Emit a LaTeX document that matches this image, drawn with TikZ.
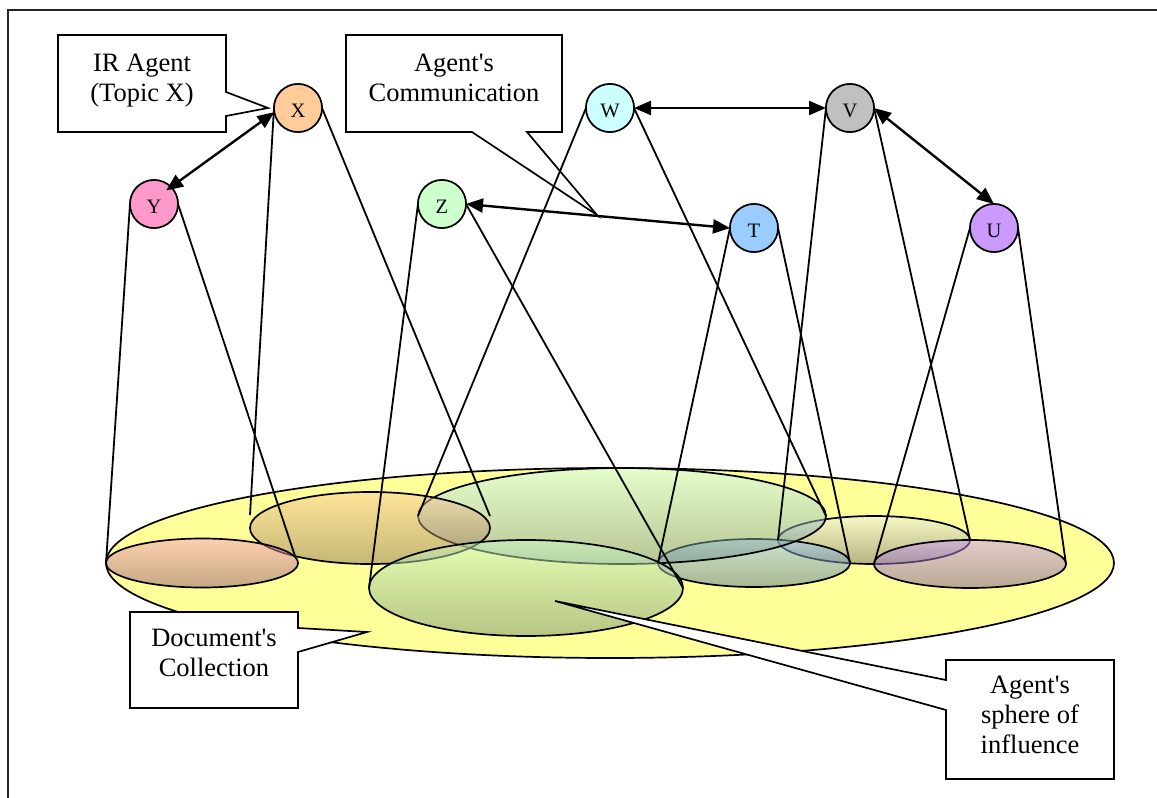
\documentclass[tikz,border=0pt]{standalone}
\usepackage{fontspec}
\setmainfont{Liberation Serif}
\usetikzlibrary{arrows.meta,shapes.geometric}

\definecolor{docyellow}{HTML}{FFFF99}
\definecolor{agX}{HTML}{FFCC99}
\definecolor{agY}{HTML}{FF99CC}
\definecolor{agZ}{HTML}{CCFFCC}
\definecolor{agW}{HTML}{CCFFFF}
\definecolor{agT}{HTML}{99CCFF}
\definecolor{agV}{HTML}{C0C0C0}
\definecolor{agU}{HTML}{CC99FF}

\tikzset{
  agent/.style={circle, draw, line width=1.6pt, minimum size=48pt, inner sep=0pt,
    outer sep=0pt, font=\fontsize{20.5}{20.5}\selectfont, text height=18pt, text depth=0pt},
  sphere/.style n args={4}{ellipse, draw, line width=1.7pt, inner sep=0pt, outer sep=0pt,
    minimum width=#1, minimum height=#2, top color=#3, bottom color=#4,
    fill opacity=0.5, draw opacity=1},
  cone/.style={line width=1.8pt},
  link/.style={{Triangle[length=17pt,width=14pt]}-{Triangle[length=17pt,width=14pt]},
    line width=2.4pt},
  callout/.style={draw, fill=white, line width=1.7pt, line join=miter},
  calltext/.style={align=center, anchor=north, inner sep=0pt,
    font=\fontsize{26.5}{30}\selectfont},
}

\begin{document}
\begin{tikzpicture}[x=1pt,y=-1pt]
\path[use as bounding box] (0,0) rectangle (1157,798);

% outer frame
\draw[line width=1.7pt, black!85] (8,798) -- (8,10) -- (1157,10);

% the document collection
\node[ellipse, draw, fill=docyellow, line width=1.7pt, inner sep=0pt, outer sep=0pt,
      minimum width=1008pt, minimum height=190pt] (docs) at (610,563) {};

% spheres of influence, back to front
\node[sphere={192pt}{48pt}{white!95!black}{agV!55!black}] (vs) at (874,540) {};
\node[sphere={192pt}{48pt}{agT}{agT!55!black}] (ts) at (754,563) {};
\node[sphere={192pt}{48pt}{agU}{agU!55!black}] (us) at (970,564) {};
\node[sphere={408pt}{96pt}{agW}{agW!55!black}] (ws) at (622,516) {};
\node[sphere={240pt}{72pt}{agX}{agX!55!black}] (xs) at (370,528) {};
\node[sphere={314pt}{96pt}{agZ}{agZ!55!black}] (zs) at (526,588) {};
\node[sphere={192pt}{49pt}{agY!85!agX}{agY!55!black}] (ys) at (202,563) {};

% callout shapes
\draw[callout] (58,35) -- (226,35) -- (226,92) -- (268,108) -- (226,116)
  -- (226,132) -- (58,132) -- cycle;
\draw[callout] (346,35) -- (562,35) -- (562,132) -- (527,132) -- (597,215)
  -- (472,132) -- (346,132) -- cycle;
\draw[callout] (130,612) -- (298,612) -- (298,628) -- (367,632) -- (298,652)
  -- (298,708) -- (130,708) -- cycle;
\draw[callout] (946,660) -- (1114,660) -- (1114,779) -- (946,779) -- (946,710)
  -- (555,601) -- (946,680) -- cycle;

% agents
\node[agent, fill=agX] (X) at (298,108) {X};
\node[agent, fill=agY] (Y) at (154,204) {Y};
\node[agent, fill=agZ] (Z) at (442,204) {Z};
\node[agent, fill=agW] (W) at (610,108) {W};
\node[agent, fill=agT] (T) at (754,228) {T};
\node[agent, fill=agV] (V) at (850,108) {V};
\node[agent, fill=agU] (U) at (994,228) {U};

% free ends of the shorter cone edges
\coordinate (yR) at (295,556);
\coordinate (xL) at (250,515);
\coordinate (xR) at (490,516);

% cones from each agent down to its sphere
\draw[cone] (Y.west) -- (ys.west);
\draw[cone] (Y.east) -- (yR);
\draw[cone] (X.west) -- (xL);
\draw[cone] (X.east) -- (xR);
\draw[cone] (Z.west) -- (zs.west);
\draw[cone] (Z.east) -- (zs.east);
\draw[cone] (W.west) -- (ws.west);
\draw[cone] (W.east) -- (ws.east);
\draw[cone] (T.west) -- (ts.west);
\draw[cone] (T.east) -- (ts.east);
\draw[cone] (V.west) -- (vs.west);
\draw[cone] (V.east) -- (vs.east);
\draw[cone] (U.west) -- (us.west);
\draw[cone] (U.east) -- (us.east);

% redraw agents above the cone edges
\node[agent, fill=agX] at (X) {X};
\node[agent, fill=agY] at (Y) {Y};
\node[agent, fill=agZ] at (Z) {Z};
\node[agent, fill=agW] at (W) {W};
\node[agent, fill=agT] at (T) {T};
\node[agent, fill=agV] at (V) {V};
\node[agent, fill=agU] at (U) {U};

% communication between agents
\draw[link, shorten <=-6pt] (Y.45) -- (X.190);
\draw[link] (W.east) -- (V.west);
\draw[link] (Z.east) -- (T.west);
\draw[link] (V.east) -- (U.north);

% callout texts
\node[calltext] (irlabel) at (142,53.5) {IR Agent\\(Topic X)};
\node[calltext] (commlabel) at (454,53.5) {Agent\textquotesingle s\\Communication};
\node[calltext] (doclabel) at (214,629) {Document\textquotesingle s\\Collection};
\node[calltext] (sphlabel) at (1030,676) {Agent\textquotesingle s\\sphere of\\influence};
\end{tikzpicture}
\end{document}
